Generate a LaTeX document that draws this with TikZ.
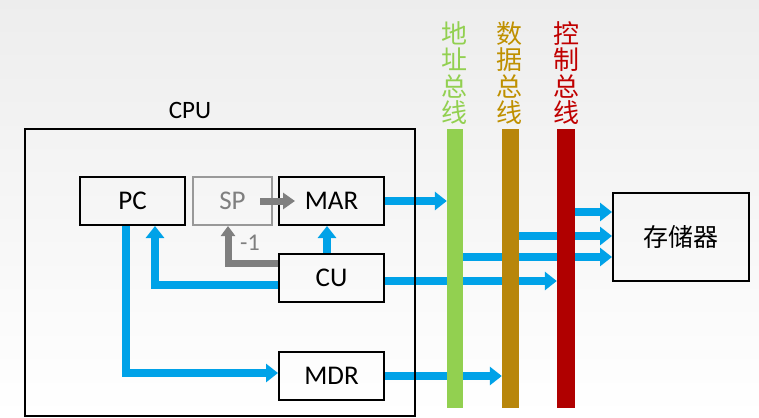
\documentclass[tikz,border=0pt]{standalone}
\usepackage{fontspec}
\setmainfont{Carlito}
\newfontfamily\cjk{Noto Sans CJK SC}
\usetikzlibrary{arrows.meta}
\definecolor{flow}{RGB}{0,162,232}
\definecolor{addrc}{RGB}{146,208,80}
\definecolor{datac}{RGB}{184,134,11}
\definecolor{ctrlc}{RGB}{176,0,0}
\definecolor{addrt}{RGB}{146,208,80}
\definecolor{datat}{RGB}{191,144,0}
\definecolor{ctrlt}{RGB}{192,0,0}
\definecolor{greyc}{RGB}{127,127,127}
\pgfdeclarelayer{back}
\pgfdeclarelayer{arrowlayer}
\pgfsetlayers{back,arrowlayer,main}
\begin{document}
\begin{tikzpicture}[x=1pt,y=-1pt,
  box/.style={draw=black,line width=2pt,minimum height=48pt,inner sep=0pt,
    font=\fontsize{27}{32}\selectfont},
  bus/.style={draw=none,minimum height=279pt,inner sep=0pt},
  buslabel/.style={align=center,inner sep=0pt,font=\cjk\fontsize{26}{26.5}\selectfont},
  barrow/.style={draw=flow,line width=8pt,-{Triangle[width=18pt,length=12pt]}},
  garrow/.style={draw=greyc,line width=7pt,-{Triangle[width=16pt,length=12pt]}},
  garrowsmall/.style={draw=greyc,line width=7pt,-{Triangle[width=14pt,length=10pt]}}]
\useasboundingbox (0,0) rectangle (759,417);
\begin{pgfonlayer}{back}
\shade[top color=black!7,bottom color=white,draw=none] (0,0) rectangle (759,417);
\end{pgfonlayer}

% CPU
\node[draw=black,line width=2pt,minimum width=390pt,minimum height=287pt,inner sep=0pt] (cpu) at (220,272.5) {};
\node[inner sep=0pt,font=\fontsize{25}{30}\selectfont] (cpulabel) at (190,110) {CPU};

\node[box,minimum width=105pt] (pc) at (132.5,201) {PC};
\node[box,minimum width=79pt,draw=greyc!80,text=greyc] (sp) at (232.5,201) {SP};
\node[box,minimum width=105pt] (mar) at (331.5,201) {MAR};
\node[box,minimum width=105pt] (cu) at (331.5,278) {CU};
\node[box,minimum width=105pt] (mdr) at (331.5,376) {MDR};
\node[box,minimum width=136pt,minimum height=88pt,font=\cjk\fontsize{25}{30}\selectfont] (mem) at (681,237) {存储器};

% buses
\node[bus,fill=addrc,minimum width=16pt] (addr) at (455,268.5) {};
\node[bus,fill=datac,minimum width=17pt] (data) at (510.5,268.5) {};
\node[bus,fill=ctrlc,minimum width=18pt] (ctrl) at (566,268.5) {};
\node[buslabel,text=addrt] (addrl) at (454,73) {地\\址\\总\\线};
\node[buslabel,text=datat] (datal) at (509,73) {数\\据\\总\\线};
\node[buslabel,text=ctrlt] (ctrll) at (566,73) {控\\制\\总\\线};

\coordinate (m1) at ([yshift=25pt]mem.west);
\coordinate (m2) at ([yshift=1pt]mem.west);
\coordinate (m3) at ([yshift=-20pt]mem.west);
\coordinate (cuR) at ([yshift=-3pt]cu.east);

\begin{pgfonlayer}{arrowlayer}
\draw[barrow] ([xshift=-6.5pt]pc.south) |- ([yshift=3pt]mdr.west);
\draw[barrow] ([yshift=-7pt]cu.west) -| ([xshift=22.5pt]pc.south);
\draw[barrow] ([xshift=-4.5pt]cu.north) -- ([xshift=-4.5pt]mar.south);
\draw[garrowsmall] ([yshift=15pt]cu.west) -| ([xshift=-4.5pt]sp.south);
\draw[barrow] (mar.east) -- (mar.east -| addr.west);
\draw[barrow] (cuR) -- (cuR -| ctrl.west);
\draw[barrow] (mdr.east) -- (mdr.east -| data.west);
\draw[barrow] (m1 -| ctrl.east) -- (m1);
\draw[barrow] (m2 -| data.east) -- (m2);
\draw[barrow] (m3 -| addr.east) -- (m3);
\end{pgfonlayer}

\draw[garrow] ([xshift=-13pt]sp.east) -- ([xshift=17pt]mar.west);
\node[text=greyc,inner sep=0pt,font=\fontsize{24}{28}\selectfont] (minus) at (250,243) {-1};
\end{tikzpicture}
\end{document}
